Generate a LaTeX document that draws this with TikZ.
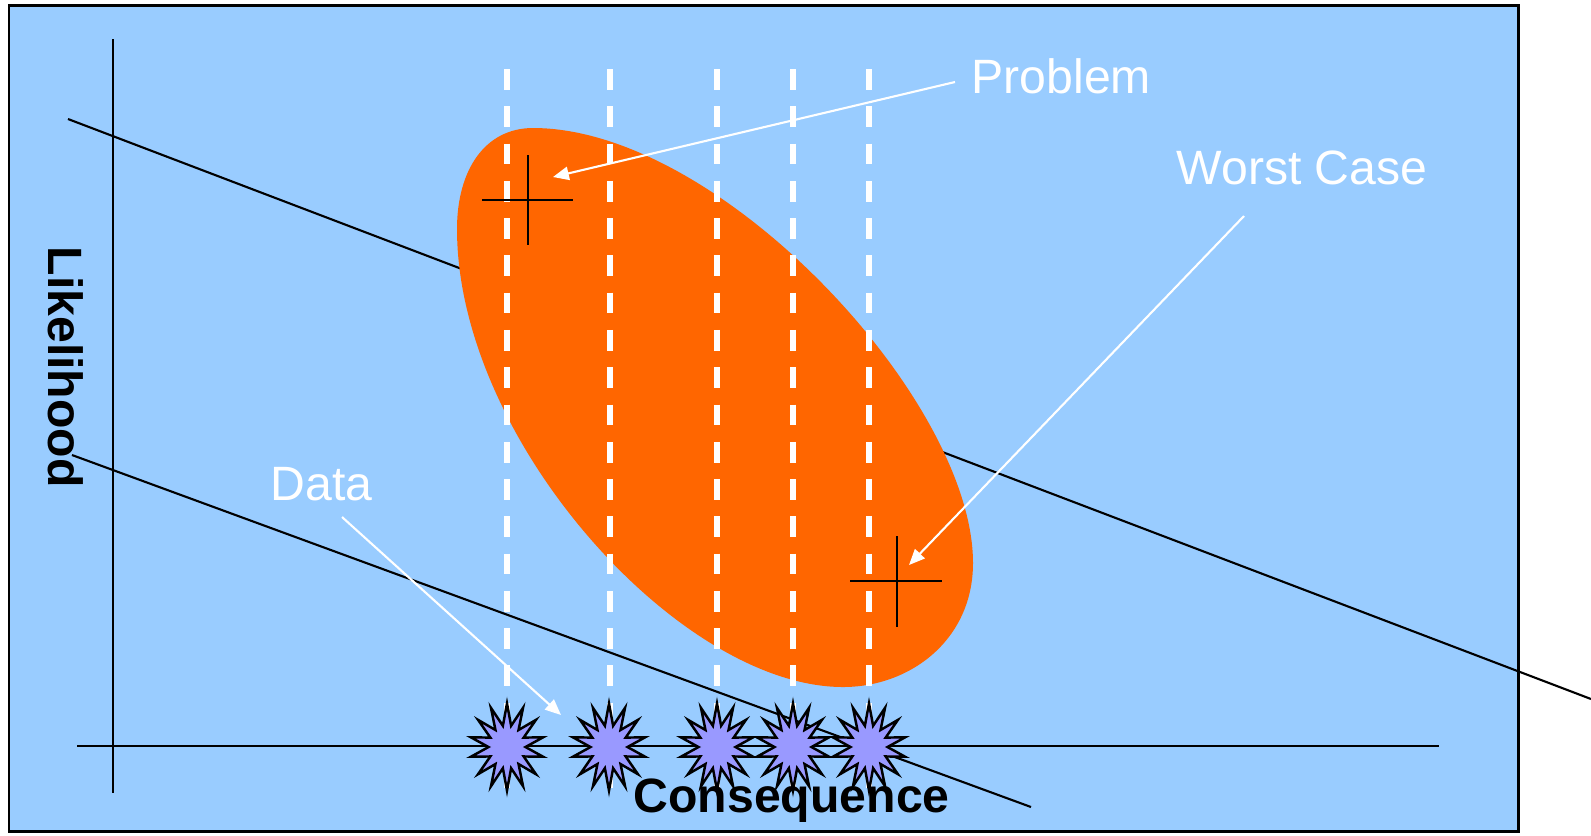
\documentclass[tikz,border=0pt]{standalone}
\usepackage{fontspec}
\setmainfont{Liberation Sans}
\usetikzlibrary{shapes.geometric,arrows.meta}
\definecolor{sky}{HTML}{99CCFF}
\definecolor{blob}{HTML}{FF6600}
\definecolor{burst}{HTML}{9999FF}
\tikzset{
  hint/.style={text=white, inner sep=0pt, font=\fontsize{13.7}{15}\selectfont},
  axistitle/.style={text=black, inner sep=0pt, font=\fontsize{13.7}{15}\selectfont\bfseries},
  pointer/.style={white, line width=0.6pt, -{Triangle[length=4.5pt,width=3.8pt]}},
  burststar/.style={star, star points=14, star point ratio=2.0, minimum size=0.87cm,
    inner sep=0pt, fill=burst, draw=black, line width=0.7pt, xscale=0.85},
  crossline/.style={black, line width=0.75pt},
  guide/.style={white, line width=1.5pt, dash pattern=on 5.9pt off 4.7pt},
}
\begin{document}
\begin{tikzpicture}[x=0.01cm, y=-0.01cm]
\useasboundingbox (0,0) rectangle (1591,835);
% background panel
\draw[fill=sky, line width=0.85pt] (9,5) rectangle (1518,831);

% axes
\draw[line width=0.6pt] (113,39) -- (113,793);
\draw[line width=0.6pt] (77,746) -- (1439,746);

% the two limit lines
\draw[line width=0.6pt] (68,119) -- (1591,699);
\draw[line width=0.6pt] (72,455) -- (1031,807);

% the orange region
\fill[blob] (457,229) .. controls (457,170) and (485,128) .. (533,128)
  .. controls (720,128) and (973,400) .. (973,563)
  .. controls (973,640) and (910,687) .. (843,687)
  .. controls (680,687) and (457,440) .. (457,229) -- cycle;

% dashed verticals
\foreach \x in {507,610,717,793,869}
  \draw[guide] (\x,69) -- (\x,788);

% crosses
\coordinate (probpt) at (528,200);
\coordinate (worstpt) at (897,581);
\draw[crossline] (482,200) -- (573,200);
\draw[crossline] (528,155) -- (528,245);
\draw[crossline] (850,581) -- (942,581);
\draw[crossline] (897,536) -- (897,627);

% data points
\foreach \x [count=\i] in {507,609,717,793,869}
  \node at (\x,747) [burststar] (s\i) {};

% texts
\node at (971,93) [hint, anchor=base west] (prob) {Problem};
\node at (1176,184) [hint, anchor=base west] (worst) {Worst Case};
\node at (270,500) [hint, anchor=base west] (data) {Data};
\node at (633,812) [axistitle, anchor=base west] (conseq) {Consequence};
\node at (48,246) [axistitle, anchor=base west, rotate=-90] (likely) {Likelihood};

% arrows
\coordinate (probtail) at (955,82);
\coordinate (probtip) at (553,177);
\coordinate (worsttail) at (1244,216);
\coordinate (worsttip) at (909,565);
\coordinate (datatail) at (342,517);
\coordinate (datatip) at (561,715);
\draw[pointer] (probtail) -- (probtip);
\draw[pointer] (worsttail) -- (worsttip);
\draw[pointer] (datatail) -- (datatip);
\end{tikzpicture}
\end{document}
